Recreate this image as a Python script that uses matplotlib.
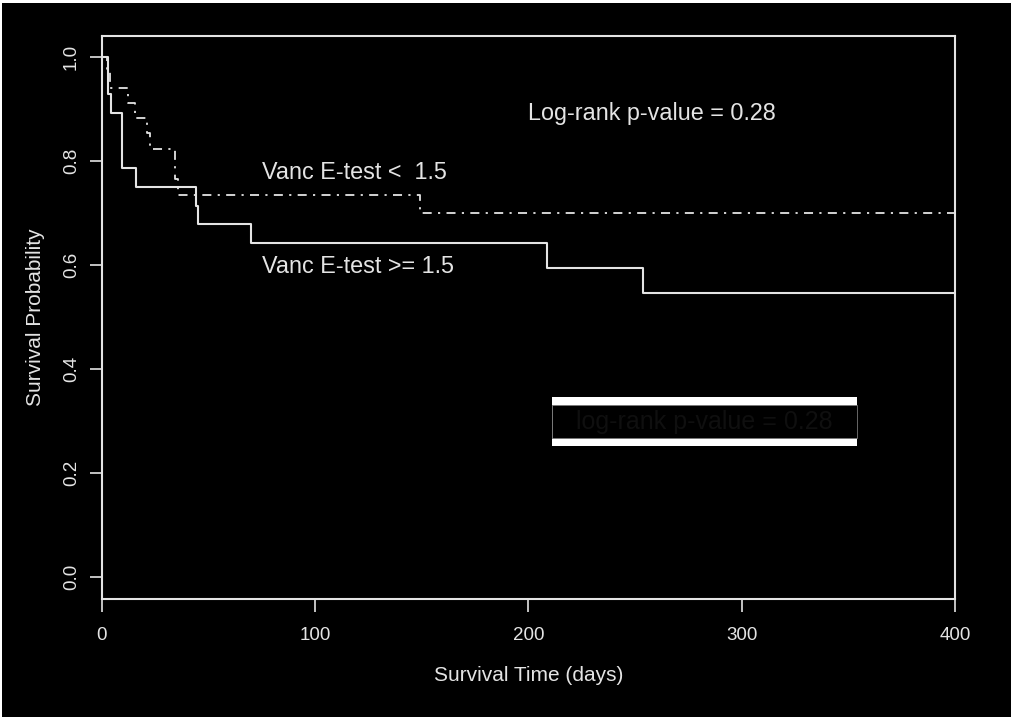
import matplotlib

matplotlib.use('Agg')
import matplotlib.pyplot as plt
from matplotlib.patches import Rectangle

plt.rcParams['font.family'] = ['Liberation Sans', 'DejaVu Sans']

# Kaplan-Meier estimates
# Vanc E-test >= 1.5 (solid)
t_high = [0, 2.9, 4.2, 9.2, 15.8, 44.1, 45.2, 69.7, 208.8, 253.8, 400]
s_high = [1.0, 0.929, 0.893, 0.786, 0.750, 0.714, 0.679, 0.643, 0.594, 0.547, 0.547]
# Vanc E-test < 1.5 (dash-dot)
t_low = [0, 2.2, 3.8, 12.3, 15.5, 20.9, 22.5, 34.2, 35.8, 149.1, 400]
s_low = [1.0, 0.971, 0.941, 0.912, 0.882, 0.853, 0.824, 0.765, 0.735, 0.700, 0.700]

x_ticks = [0, 100, 200, 300, 400]
y_ticks = [0.0, 0.2, 0.4, 0.6, 0.8, 1.0]

FG = '#e4e4e4'

fig = plt.figure(figsize=(10.12, 7.2), dpi=100, facecolor='black')
ax = fig.add_axes([102 / 1012, 1 - 599 / 720, 853 / 1012, 563 / 720])
ax.set_facecolor('black')

ax.step(t_high, s_high, where='post', color=FG, lw=1.5)
ax.step(t_low, s_low, where='post', color=FG, lw=1.3,
        dashes=(5, 3.5, 1.2, 3.5))

ax.set_xlim(0, 400)
ax.set_ylim(-22 / 520, 1 + 21 / 520)
ax.set_xticks(x_ticks)
ax.set_xticklabels([str(v) for v in x_ticks])
ax.set_yticks(y_ticks)
ax.set_yticklabels([f'{v:.1f}' for v in y_ticks], rotation=90, va='center')

for sp in ax.spines.values():
  sp.set_color(FG)
  sp.set_linewidth(1.5)
ax.tick_params(colors=FG, labelcolor=FG, labelsize=13.5, length=9,
               width=1.2, direction='out')
ax.tick_params(axis='x', pad=11)
ax.tick_params(axis='y', pad=7)

ax.set_xlabel('Survival Time (days)', color=FG, fontsize=15, labelpad=16)
ax.set_ylabel('Survival Probability', color=FG, fontsize=15, labelpad=13)

ax.text(258, 0.892, 'Log-rank p-value = 0.28', color=FG, fontsize=16.8,
        ha='center', va='center')
ax.text(75, 0.777, 'Vanc E-test <  1.5', color=FG, fontsize=16.8,
        ha='left', va='center')
ax.text(75, 0.597, 'Vanc E-test >= 1.5', color=FG, fontsize=16.8,
        ha='left', va='center')

# white framed label box with near-invisible text
ax.add_patch(Rectangle((211.0, 0.252), 143.0, 0.094, facecolor='white',
                       edgecolor='none', zorder=3))
ax.add_patch(Rectangle((211.0, 0.267), 143.0, 0.064, facecolor='black',
                       edgecolor='#777777', lw=0.6, zorder=4))
ax.text(282.5, 0.299, 'log-rank p-value = 0.28', color='#0f0f0f',
        fontsize=18, ha='center', va='center', zorder=5)

# thin white border of the original screenshot
fig.patches.append(Rectangle((0, 1 - 3 / 720), 1, 3 / 720, transform=fig.transFigure,
                             facecolor='white', edgecolor='none'))
fig.patches.append(Rectangle((0, 0), 2 / 1012, 1, transform=fig.transFigure,
                             facecolor='white', edgecolor='none'))
fig.patches.append(Rectangle((0, 0), 1, 3 / 720, transform=fig.transFigure,
                             facecolor='white', edgecolor='none'))

fig.savefig('out.png', dpi=100, facecolor='black')
plt.close(fig)
